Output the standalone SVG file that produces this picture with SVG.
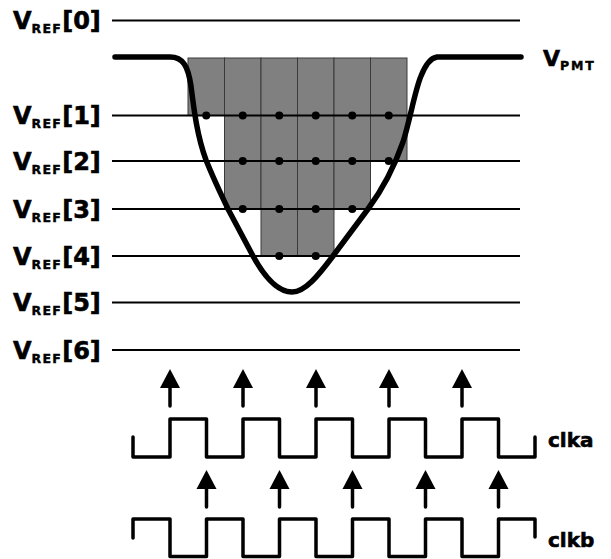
<svg xmlns="http://www.w3.org/2000/svg" width="611" height="559" viewBox="0 0 611 559">
<style>
text{font-family:"DejaVu Sans","Verdana",sans-serif;font-weight:bold;fill:#000;stroke:#000;stroke-width:0.6px}
.lbl{font-size:24px}
.sub{font-size:12.5px;letter-spacing:1.3px;stroke-width:0.4px}
.ref{stroke:#000;stroke-width:2;fill:none}
.cell{fill:#808080;stroke:#3a3a3a;stroke-width:1}
.dot{fill:#000}
.clk{stroke:#000;stroke-width:3.5;fill:none;stroke-linejoin:round;stroke-linecap:round}
.wave{stroke:#000;stroke-width:5.5;fill:none;stroke-linejoin:round;stroke-linecap:round}
</style>
<defs>
<g id="arrow">
<line x1="0" y1="0" x2="0" y2="-19" stroke="#000" stroke-width="3.5" stroke-linecap="round"/>
<polygon points="-10,-18 10,-18 0,-37" fill="#000"/>
</g>
</defs>
<g id="cells">
<rect class="cell" x="188" y="58" width="36.5" height="57.5"/>
<rect class="cell" x="224.5" y="58" width="36.5" height="151"/>
<rect class="cell" x="261" y="58" width="36.5" height="198"/>
<rect class="cell" x="297.5" y="58" width="36.5" height="198"/>
<rect class="cell" x="334" y="58" width="36.5" height="151"/>
<rect class="cell" x="370.5" y="58" width="36.5" height="103"/>
</g>
<g id="vref-lines">
<line class="ref" x1="112" y1="20.5" x2="520" y2="20.5"/>
<line class="ref" x1="112" y1="115.5" x2="520" y2="115.5"/>
<line class="ref" x1="112" y1="161" x2="520" y2="161"/>
<line class="ref" x1="112" y1="209" x2="520" y2="209"/>
<line class="ref" x1="112" y1="256" x2="520" y2="256"/>
<line class="ref" x1="112" y1="302.5" x2="520" y2="302.5"/>
<line class="ref" x1="112" y1="350" x2="520" y2="350"/>
</g>
<g id="dots">
<circle class="dot" cx="206.25" cy="115.5" r="4"/>
<circle class="dot" cx="242.75" cy="115.5" r="4"/>
<circle class="dot" cx="279.25" cy="115.5" r="4"/>
<circle class="dot" cx="315.75" cy="115.5" r="4"/>
<circle class="dot" cx="352.25" cy="115.5" r="4"/>
<circle class="dot" cx="388.75" cy="115.5" r="4"/>
<circle class="dot" cx="242.75" cy="161" r="4"/>
<circle class="dot" cx="279.25" cy="161" r="4"/>
<circle class="dot" cx="315.75" cy="161" r="4"/>
<circle class="dot" cx="352.25" cy="161" r="4"/>
<circle class="dot" cx="388.75" cy="161" r="4"/>
<circle class="dot" cx="242.75" cy="209" r="4"/>
<circle class="dot" cx="279.25" cy="209" r="4"/>
<circle class="dot" cx="315.75" cy="209" r="4"/>
<circle class="dot" cx="352.25" cy="209" r="4"/>
<circle class="dot" cx="279.25" cy="256" r="4"/>
<circle class="dot" cx="315.75" cy="256" r="4"/>
</g>
<g id="vpmt">
<path class="wave" d="M115,57 L170,57 C183,57 188,66 191,86 C194,110 197,135 206,160 C214,180 220,192 228,209 L253,256 C264,276 278,292 292,292 C305,292 318,276 333,256 L368,209 C382,190 395,165 403,142 C410,120 415,90 421,76 C425,66 430,58 437,57 L521,57"/>
<text class="lbl" x="543" y="66" style="font-size:22px">V<tspan class="sub" dy="3.5" style="letter-spacing:1.8px">PMT</tspan></text>
</g>
<g id="labels">
<text class="lbl" x="13" y="29">V<tspan class="sub" dy="4">REF</tspan><tspan dy="-4">[0]</tspan></text>
<text class="lbl" x="13" y="124">V<tspan class="sub" dy="4">REF</tspan><tspan dy="-4">[1]</tspan></text>
<text class="lbl" x="13" y="169.5">V<tspan class="sub" dy="4">REF</tspan><tspan dy="-4">[2]</tspan></text>
<text class="lbl" x="13" y="217.5">V<tspan class="sub" dy="4">REF</tspan><tspan dy="-4">[3]</tspan></text>
<text class="lbl" x="13" y="264.5">V<tspan class="sub" dy="4">REF</tspan><tspan dy="-4">[4]</tspan></text>
<text class="lbl" x="13" y="311">V<tspan class="sub" dy="4">REF</tspan><tspan dy="-4">[5]</tspan></text>
<text class="lbl" x="13" y="358.5">V<tspan class="sub" dy="4">REF</tspan><tspan dy="-4">[6]</tspan></text>
</g>
<g id="clka">
<path class="clk" d="M133,437 V457 H170 V419 H206.5 V457 H243 V419 H279.5 V457 H316 V419 H352.5 V457 H389 V419 H425.5 V457 H462 V419 H498.5 V457 H535 V437"/>
<text x="548" y="446.5" style="font-size:20px">clka</text>
</g>
<g id="clkb">
<path class="clk" d="M133,538 V519 H170 V556.5 H206.5 V519 H243 V556.5 H279.5 V519 H316 V556.5 H352.5 V519 H389 V556.5 H425.5 V519 H462 V556.5 H498.5 V519 H535 V537"/>
<text x="548" y="546.5" style="font-size:20px">clkb</text>
</g>
<g id="connectors">
<use href="#arrow" x="170" y="406"/>
<use href="#arrow" x="243" y="406"/>
<use href="#arrow" x="316" y="406"/>
<use href="#arrow" x="389" y="406"/>
<use href="#arrow" x="462" y="406"/>
<use href="#arrow" x="206.5" y="507"/>
<use href="#arrow" x="279.5" y="507"/>
<use href="#arrow" x="352.5" y="507"/>
<use href="#arrow" x="425.5" y="507"/>
<use href="#arrow" x="498.5" y="507"/>
</g>
</svg>
